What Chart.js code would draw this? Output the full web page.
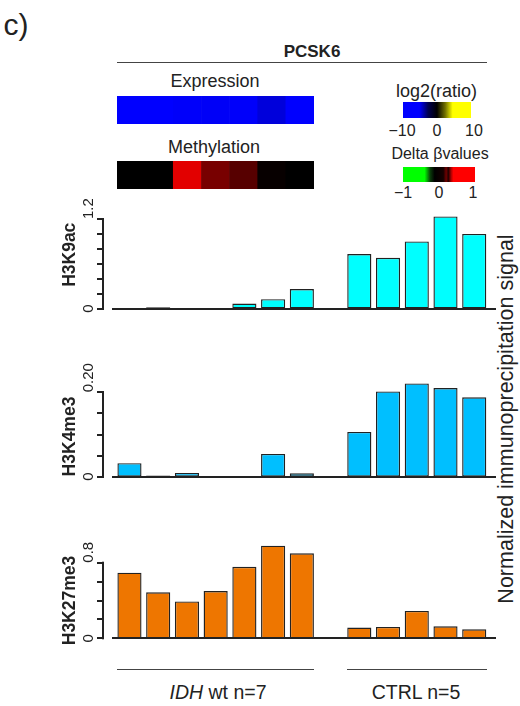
<!DOCTYPE html>
<html>
<head>
<meta charset="utf-8">
<script src="https://cdn.jsdelivr.net/npm/chart.js@4.4.0/dist/chart.umd.min.js"></script>
<style>
  html, body { margin: 0; padding: 0; background: #fff; }
  body { width: 520px; height: 706px; position: relative; overflow: hidden;
         font-family: "Liberation Sans", Arial, Helvetica, sans-serif; color: #222; }
  .t { position: absolute; white-space: nowrap; line-height: 1; transform: translate(-50%, -50%); }
  .v { position: absolute; white-space: nowrap; line-height: 1; transform: translate(-50%, -50%) rotate(-90deg); }
  .hl { position: absolute; height: 1.3px; background: #444; }
  .cbar { position: absolute; }
  .ax { position: absolute; background: #222; z-index: 1000; }
  canvas { position: absolute; z-index: 2; }
</style>
</head>
<body>
<div class="t" style="left:16px;top:25px;font-size:30px;">c)</div>
<div class="t" style="left:312px;top:50.5px;font-size:17px;font-weight:bold;">PCSK6</div>
<div class="hl" style="left:117px;top:61.5px;width:370px;"></div>

<div class="t" style="left:215px;top:81px;font-size:18px;">Expression</div>
<canvas id="expr" width="197" height="28" style="left:117px;top:96px;"></canvas>
<div class="t" style="left:214px;top:146.5px;font-size:18px;">Methylation</div>
<canvas id="meth" width="197" height="28" style="left:117px;top:161px;"></canvas>

<div class="t" style="left:436.5px;top:91px;font-size:18px;">log2(ratio)</div>
<div class="cbar" style="left:403px;top:102px;width:68px;height:15.5px;
  background:linear-gradient(to right,#0000ff 0%,#0000ff 24%,#000050 37%,#000 50%,#707000 62%,#ffff00 73%,#ffff00 100%);"></div>
<div class="t" style="left:440px;top:153.5px;font-size:16px;">Delta βvalues</div>
<div class="cbar" style="left:403px;top:167px;width:72px;height:15px;
  background:linear-gradient(to right,#00ff00 0%,#00ff00 30%,#0a3a0a 38%,#000 44%,#150000 56%,#700000 60%,#200000 63%,#b00000 67%,#ff0000 70%,#ff0000 100%);"></div>

<canvas id="k9" width="520" height="125" style="left:0;top:195px;"></canvas>
<canvas id="k4" width="520" height="150" style="left:0;top:340px;"></canvas>
<canvas id="k27" width="520" height="150" style="left:0;top:500px;"></canvas>

<div class="v" style="left:507px;top:419px;font-size:21.5px;">Normalized immunoprecipitation signal</div>

<div class="hl" style="left:117px;top:669px;width:197px;"></div>
<div class="hl" style="left:347px;top:669px;width:140px;"></div>
<div class="t" style="left:218px;top:693px;font-size:19.5px;"><i>IDH</i> wt n=7</div>
<div class="t" style="left:416px;top:693px;font-size:19.5px;">CTRL n=5</div>

<script>
// samples
const idhSamples = ['IDH wt 1', 'IDH wt 2', 'IDH wt 3', 'IDH wt 4', 'IDH wt 5', 'IDH wt 6', 'IDH wt 7'];
const ctrlSamples = ['CTRL 1', 'CTRL 2', 'CTRL 3', 'CTRL 4', 'CTRL 5'];

// heatmap rows (IDH wt samples only)
const expression = [-6.2, -5.4, -4.9, -4.85, -4.9, -4.3, -5.2];   // log2(ratio)
const methylation = [0.0, 0.0, 0.31, 0.165, 0.12, 0.01, 0.0];     // delta beta

// ChIP signal, IDH wt then CTRL
const h3k9ac = [0, 0.018, 0, 0.004, 0.067, 0.125, 0.26, 0.73, 0.68, 0.90, 1.235, 1.0];
const h3k4me3 = [0.032, 0.003, 0.009, 0.001, 0, 0.054, 0.008, 0.106, 0.202, 0.221, 0.210, 0.188];
const h3k27me3 = [0.694, 0.486, 0.39, 0.50, 0.757, 0.98, 0.90, 0.113, 0.12, 0.29, 0.127, 0.095];

// tick labels
const k9Ticks = ['0', '1.2'];
const k4Ticks = ['0', '0.20'];
const k27Ticks = ['0', '0.8'];
const log2Ticks = ['−10', '0', '10'];
const deltaTicks = ['−1', '0', '1'];

function addDiv(cls, css, text) {
  const d = document.createElement('div');
  d.className = cls;
  d.style.cssText = css;
  if (text) d.textContent = text;
  document.body.appendChild(d);
}

function putTicks(labels, xs, y) {
  labels.forEach((l, i) => addDiv('t', `left:${xs[i]}px;top:${y}px;font-size:16px;`, l));
}
putTicks(log2Ticks, [402, 437, 474], 130.5);
putTicks(deltaTicks, [403, 439, 473], 193);

function log2Color(v) {
  const c = Math.round(255 * Math.min(1, Math.abs(v) / 5));
  return v < 0 ? `rgb(0,0,${c})` : `rgb(${c},${c},0)`;
}
function deltaColor(v) {
  const c = Math.round(255 * Math.min(1, Math.abs(v) / 0.35));
  return v < 0 ? `rgb(0,${c},0)` : `rgb(${c},0,0)`;
}

function heat(id, values, colorOf) {
  new Chart(document.getElementById(id), {
    type: 'bar',
    data: {
      labels: idhSamples,
      datasets: [{
        data: values.map(() => 1),
        backgroundColor: values.map(colorOf),
        borderWidth: 0,
        barPercentage: 1,
        categoryPercentage: 1,
      }],
    },
    options: {
      responsive: false,
      animation: false,
      layout: { padding: 0 },
      plugins: { legend: { display: false }, tooltip: { enabled: false } },
      scales: {
        x: { display: false },
        y: { display: false, min: 0, max: 1 },
      },
    },
  });
}
heat('expr', expression, log2Color);
heat('meth', methylation, deltaColor);

// R style axis: bracket, tick marks, rotated labels, bold title
const rAxis = {
  id: 'rAxis',
  afterDraw(chart, args, opts) {
    const { ctx, chartArea, scales: { y } } = chart;
    const ax = Math.round(chartArea.left - 12);
    const y0 = y.getPixelForValue(0);
    const yT = y.getPixelForValue(opts.max);
    ctx.save();
    ctx.fillStyle = '#222';
    ctx.fillRect(ax - 1, yT - 1, 2, y0 - yT + 2);
    for (let i = 0; i * opts.step <= opts.max + 1e-9; i++) {
      ctx.fillRect(ax - 6, Math.round(y.getPixelForValue(i * opts.step)) - 1, 6, 2);
    }

    ctx.fillStyle = '#222';
    ctx.textBaseline = 'middle';
    ctx.font = '15px "Liberation Sans", Arial';
    opts.ticks.forEach((t, i) => {
      ctx.save();
      ctx.translate(ax - 14, y.getPixelForValue(parseFloat(t)));
      ctx.rotate(-Math.PI / 2);
      ctx.textAlign = i === opts.ticks.length - 1 ? 'left' : 'center';
      ctx.fillText(t, 0, 0);
      ctx.restore();
    });
    ctx.font = 'bold 17.5px "Liberation Sans", Arial';
    ctx.translate(70, (chartArea.top + chartArea.bottom) / 2 + opts.shift);
    ctx.rotate(-Math.PI / 2);
    ctx.textAlign = 'center';
    ctx.fillText(opts.title, 0, 0);
    ctx.restore();
  },
};

// same bracket as page elements on top, plus the baseline, placed from the y scale
function axisLines(chart, canvas, max, step) {
  const { chartArea, scales: { y } } = chart;
  const ox = canvas.offsetLeft;
  const oy = canvas.offsetTop;
  const ax = Math.round(ox + chartArea.left - 12);
  const y0 = Math.round(oy + y.getPixelForValue(0));
  const yT = Math.round(oy + y.getPixelForValue(max));
  addDiv('ax', `left:${ax - 1}px;top:${yT - 1}px;width:2px;height:${y0 - yT + 2}px;`);
  for (let i = 0; i * step <= max + 1e-9; i++) {
    const py = Math.round(oy + y.getPixelForValue(i * step));
    addDiv('ax', `left:${ax - 6}px;top:${py - 1}px;width:6px;height:2px;`);
  }
  const bx = Math.round(ox + chartArea.left - 3);
  const bw = Math.round(ox + chartArea.right + 7) - bx;
  addDiv('ax', `left:${bx}px;top:${y0 - 1}px;width:${bw}px;height:2px;`);
}

function panel(id, title, values, color, max, step, ticks, pad, shift) {
  const nIdh = idhSamples.length;
  // one empty slot between the two groups
  const labels = [...idhSamples, '', ...ctrlSamples];
  const data = [...values.slice(0, nIdh), null, ...values.slice(nIdh)];
  const canvas = document.getElementById(id);
  const chart = new Chart(canvas, {
    type: 'bar',
    data: {
      labels,
      datasets: [{
        label: title,
        data,
        backgroundColor: color,
        borderColor: '#222',
        borderWidth: 1.4,
        borderSkipped: false,
        barPercentage: 0.84,
        categoryPercentage: 1,
        clip: false,
      }],
    },
    options: {
      responsive: false,
      animation: false,
      layout: { padding: { left: 115.1, right: 31.4, top: pad[0], bottom: pad[1] } },
      plugins: {
        legend: { display: false },
        tooltip: { enabled: false },
        rAxis: { title, ticks, shift, max, step },
      },
      scales: {
        x: { display: false },
        y: { display: false, min: 0, max },
      },
    },
    plugins: [rAxis],
  });
  axisLines(chart, canvas, max, step);
}

panel('k9', 'H3K9ac', h3k9ac, '#00FFFF', 1.2, 0.2, k9Ticks, [24, 11.5], -9);
panel('k4', 'H3K4me3', h3k4me3, '#00BFFF', 0.2, 0.05, k4Ticks, [52.3, 13.3], 2);
panel('k27', 'H3K27me3', h3k27me3, '#EE7600', 0.8, 0.2, k27Ticks, [62.7, 11.7], 0);
</script>
</body>
</html>
